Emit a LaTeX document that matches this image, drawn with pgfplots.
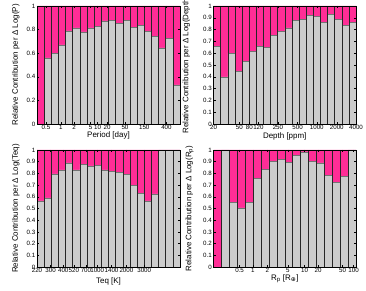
\documentclass[border=0pt]{standalone}
\usepackage{fontspec}
\setmainfont{Liberation Sans}
\newfontfamily\dejavu{DejaVu Sans}
\usepackage{pgfplots}
\pgfplotsset{compat=1.18}
\definecolor{barpink}{RGB}{255,45,150}
\definecolor{bargray}{RGB}{204,204,204}
\pgfplotsset{
  panel/.style={
    scale only axis,
    ymin=0, ymax=1,
    axis on top,
    tick align=inside,
    major tick length=2bp,
    tick style={black, line width=0.4bp},
    axis line style={black, line width=0.6bp},
    tick label style={font=\fontsize{6.2}{7}\selectfont},
    label style={font=\fontsize{8}{9}\selectfont},
    /pgf/number format/assume math mode=true,
    xticklabel style={inner sep=1.3pt},
    yticklabel style={inner sep=1.5pt},
  },
  pinkbar/.style={ybar, bar width=1, bar shift=0pt, fill=barpink, draw=none},
  graybar/.style={ybar, bar width=1, bar shift=0pt, fill=bargray, draw=black!55, line width=0.5bp},
  edgebar/.style={ybar, bar width=1, bar shift=0pt, fill=none, draw=black!85, line width=0.5bp},
}
\begin{document}
\begin{tikzpicture}
% Panel 1: Period
\begin{axis}[panel, at={(37bp,167bp)}, anchor=south west, width=143bp, height=118bp,
  xmin=0, xmax=20,
  ytick={0,0.2,0.4,0.6,0.8,1},
  xtick={1.26,3.35,5.2,7.5,8.47,9.8,12.3,15,18.1},
  xticklabels={0.5,1,2,5,10,20,50,150,400},
  xlabel={Period [day]},
  ylabel={Relative Contribution per Δ Log(P)},
  xlabel style={at={(axis description cs:0.5,-0.093)}, anchor=center},
  ylabel style={at={(axis description cs:-0.149,0.5)}, anchor=center},
]
\addplot[pinkbar] coordinates {(0.5,1)(1.5,1)(2.5,1)(3.5,1)(4.5,1)(5.5,1)(6.5,1)(7.5,1)(8.5,1)(9.5,1)(10.5,1)(11.5,1)(12.5,1)(13.5,1)(14.5,1)(15.5,1)(16.5,1)(17.5,1)(18.5,1)(19.5,1)};
\addplot[graybar] coordinates {(1.5,0.56)(2.5,0.60)(3.5,0.67)(4.5,0.79)(5.5,0.815)(6.5,0.78)(7.5,0.815)(8.5,0.83)(9.5,0.873)(10.5,0.88)(11.5,0.85)(12.5,0.88)(13.5,0.817)(14.5,0.837)(15.5,0.783)(16.5,0.74)(17.5,0.645)(18.5,0.724)(19.5,0.332)};
\addplot[edgebar] coordinates {(0.5,1)(1.5,1)(2.5,1)(3.5,1)(4.5,1)(5.5,1)(6.5,1)(7.5,1)(8.5,1)(9.5,1)(10.5,1)(11.5,1)(12.5,1)(13.5,1)(14.5,1)(15.5,1)(16.5,1)(17.5,1)(18.5,1)(19.5,1)};
\end{axis}
% Panel 2: Depth
\begin{axis}[panel, at={(213.5bp,167bp)}, anchor=south west, width=142.5bp, height=118bp,
  xmin=0, xmax=20,
  ytick={0,0.1,0.2,0.3,0.4,0.5,0.6,0.7,0.8,0.9,1},
  xtick={0,3.62,5.04,6.31,9.04,11.8,14.5,17.3,20},
  xticklabels={20,50,80,120,250,500,1000,2000,4000},
  xlabel={Depth [ppm]},
  ylabel={Relative Contribution per Δ Log(Depth)},
  xlabel style={at={(axis description cs:0.5,-0.107)}, anchor=center},
  ylabel style={at={(axis description cs:-0.19,0.5)}, anchor=center},
]
\addplot[pinkbar] coordinates {(0.5,1)(1.5,1)(2.5,1)(3.5,1)(4.5,1)(5.5,1)(6.5,1)(7.5,1)(8.5,1)(9.5,1)(10.5,1)(11.5,1)(12.5,1)(13.5,1)(14.5,1)(15.5,1)(16.5,1)(17.5,1)(18.5,1)(19.5,1)};
\addplot[graybar] coordinates {(0.5,0.66)(1.5,0.40)(2.5,0.60)(3.5,0.445)(4.5,0.53)(5.5,0.615)(6.5,0.655)(7.5,0.65)(8.5,0.75)(9.5,0.785)(10.5,0.815)(11.5,0.875)(12.5,0.885)(13.5,0.92)(14.5,0.91)(15.5,0.86)(16.5,0.93)(17.5,0.885)(18.5,0.835)(19.5,0.86)};
\addplot[edgebar] coordinates {(0.5,1)(1.5,1)(2.5,1)(3.5,1)(4.5,1)(5.5,1)(6.5,1)(7.5,1)(8.5,1)(9.5,1)(10.5,1)(11.5,1)(12.5,1)(13.5,1)(14.5,1)(15.5,1)(16.5,1)(17.5,1)(18.5,1)(19.5,1)};
\end{axis}
% Panel 3: Teq
\begin{axis}[panel, at={(37bp,24bp)}, anchor=south west, width=143bp, height=117bp,
  xmin=0, xmax=20,
  ytick={0,0.1,0.2,0.3,0.4,0.5,0.6,0.7,0.8,0.9,1},
  xtick={0,1.9,3.67,5.16,6.84,8.42,10.42,12.5,15.0},
  xticklabels={220,300,400,520,700,1000,1400,2000,3000},
  xlabel={Teq [K]},
  ylabel={Relative Contribution per Δ Log(Teq)},
  xlabel style={at={(axis description cs:0.5,-0.125)}, anchor=center},
  ylabel style={at={(axis description cs:-0.149,0.5)}, anchor=center},
]
\addplot[pinkbar] coordinates {(0.5,1)(1.5,1)(2.5,1)(3.5,1)(4.5,1)(5.5,1)(6.5,1)(7.5,1)(8.5,1)(9.5,1)(10.5,1)(11.5,1)(12.5,1)(13.5,1)(14.5,1)(15.5,1)(16.5,1)(17.5,1)(18.5,1)(19.5,1)};
\addplot[graybar] coordinates {(0.5,0.565)(1.5,0.59)(2.5,0.795)(3.5,0.83)(4.5,0.89)(5.5,0.83)(6.5,0.88)(7.5,0.865)(8.5,0.87)(9.5,0.83)(10.5,0.82)(11.5,0.81)(12.5,0.79)(13.5,0.70)(14.5,0.63)(15.5,0.565)(16.5,0.625)(17.5,1)(18.5,1)(19.5,1)};
\addplot[edgebar] coordinates {(0.5,1)(1.5,1)(2.5,1)(3.5,1)(4.5,1)(5.5,1)(6.5,1)(7.5,1)(8.5,1)(9.5,1)(10.5,1)(11.5,1)(12.5,1)(13.5,1)(14.5,1)(15.5,1)(16.5,1)(17.5,1)(18.5,1)(19.5,1)};
\end{axis}
% Panel 4: Rp
\begin{axis}[panel, at={(213.5bp,24bp)}, anchor=south west, width=142.5bp, height=117bp,
  xmin=0, xmax=18,
  ytick={0,0.1,0.2,0.3,0.4,0.5,0.6,0.7,0.8,0.9,1},
  xtick={3.29,4.96,6.79,9.4,11.5,13.2,16.3,17.7},
  xticklabels={0.5,1,2,5,10,20,50,100},
  xlabel={R\textsubscript{p} [R\textsubscript{\dejavu ⊕}]},
  ylabel={Relative Contribution per Δ Log(R\textsubscript{p})},
  xlabel style={at={(axis description cs:0.5,-0.097)}, anchor=center},
  ylabel style={at={(axis description cs:-0.167,0.5)}, anchor=center},
]
\addplot[pinkbar] coordinates {(0.5,1)(1.5,1)(2.5,1)(3.5,1)(4.5,1)(5.5,1)(6.5,1)(7.5,1)(8.5,1)(9.5,1)(10.5,1)(11.5,1)(12.5,1)(13.5,1)(14.5,1)(15.5,1)(16.5,1)(17.5,1)};
\addplot[graybar] coordinates {(1.5,1)(2.5,0.555)(3.5,0.505)(4.5,0.55)(5.5,0.755)(6.5,0.835)(7.5,0.905)(8.5,0.92)(9.5,0.897)(10.5,0.955)(11.5,0.985)(12.5,0.9)(13.5,0.89)(14.5,0.785)(15.5,0.722)(16.5,0.777)(17.5,1)};
\addplot[edgebar] coordinates {(0.5,1)(1.5,1)(2.5,1)(3.5,1)(4.5,1)(5.5,1)(6.5,1)(7.5,1)(8.5,1)(9.5,1)(10.5,1)(11.5,1)(12.5,1)(13.5,1)(14.5,1)(15.5,1)(16.5,1)(17.5,1)};
\end{axis}
\pgfresetboundingbox
\path[use as bounding box] (0,0) rectangle (366bp,291bp);
\end{tikzpicture}
\end{document}
